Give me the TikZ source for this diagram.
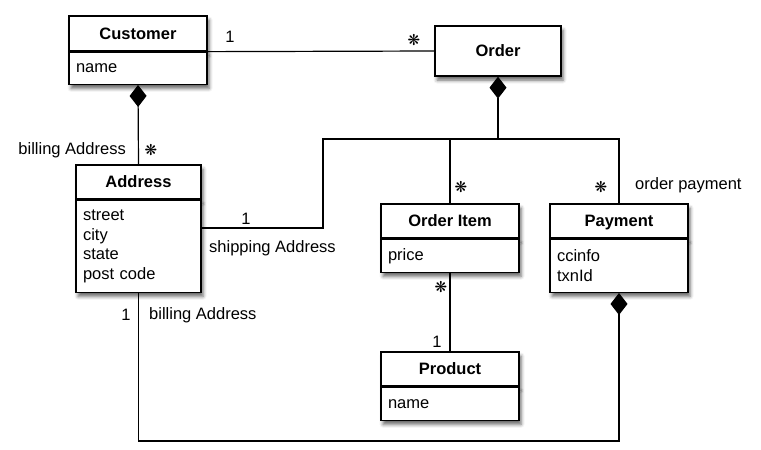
\documentclass[tikz,border=0pt]{standalone}
\usepackage{fontspec}
\setmainfont{Liberation Sans}
\newfontfamily\symfont{DejaVu Sans}
\usetikzlibrary{arrows.meta,shadows.blur}
\tikzset{dia/.tip={Diamond[length=22pt,width=17pt]}}
\begin{document}
\begin{tikzpicture}[x=1pt,y=-1pt,
  every node/.style={font=\fontsize{16.5}{19.5}\selectfont},
  cls/.style={draw, line width=1.3pt, fill=white, inner sep=0pt,
    blur shadow={shadow xshift=2pt, shadow yshift=-4pt, shadow blur radius=3.5pt, shadow opacity=60}},
  hdr/.style={cls, font=\fontsize{16.5}{19.5}\selectfont\bfseries, minimum height=34pt, text depth=0pt},
  body/.style={cls, align=left, inner xsep=7pt, anchor=north},
  conn/.style={line width=1.2pt},
  lbl/.style={inner sep=0pt},
  mult/.style={inner sep=0pt, font=\fontsize{15}{15}\selectfont\symfont}
]
\useasboundingbox (0,0) rectangle (761,450);
% classes
\node[hdr, minimum width=138pt, minimum height=35pt] (custh) at (138,33.5) {Customer};
\node[body, text width=124pt, minimum height=32pt] (custb) at (custh.south) {name};
\node[hdr, minimum width=126pt, minimum height=50pt] (order) at (498,51) {Order};
\node[hdr, minimum width=125pt] (addrh) at (138.5,182) {Address};
\node[body, text width=111pt, minimum height=92pt] (addrb) at (addrh.south) {street\\city\\state\\post code};
\node[hdr, minimum width=138pt] (oih) at (450,221) {Order Item};
\node[body, text width=124pt, minimum height=33pt] (oib) at (oih.south) {price};
\node[hdr, minimum width=138pt] (payh) at (619,221) {Payment};
\node[body, text width=124pt, minimum height=53pt] (payb) at (payh.south) {ccinfo\\txnId};
\node[hdr, minimum width=138pt] (prodh) at (450,369) {Product};
\node[body, text width=124pt, minimum height=33pt] (prodb) at (prodh.south) {name};
% connectors
\coordinate (jn) at (order.south |- 0,139);
\coordinate (shipc) at (323,228);
\draw[conn] (custh.south east) -- (order.west);
\draw[conn, -dia] (addrh.north) -- (custb.south);
\draw[conn, dia-] (order.south) -- (jn);
\draw[conn] (jn) -| (oih.north);
\draw[conn] (jn) -| (payh.north);
\draw[conn] (jn) -| (shipc) -- (addrb.east |- shipc);
\draw[conn] (oib.south) -- (prodh.north);
\draw[conn, dia-] (payb.south) -- (payb.south |- 0,441) -| (addrb.south);
% labels
\node[lbl] (l1) at (230,37) {1};
\node[mult] (m1) at (414,40) {❋};
\node[lbl, anchor=east] (l2) at (126,150) {billing Address};
\node[mult] (m2) at (151,150) {❋};
\node[lbl] (l3) at (246,219) {1};
\node[lbl, anchor=west] (l4) at (209,248) {shipping Address};
\node[mult] (m3) at (461,187) {❋};
\node[mult] (m4) at (601,187) {❋};
\node[lbl, anchor=west] (l5) at (635,185) {order payment};
\node[mult] (m5) at (441,287) {❋};
\node[lbl] (l6) at (437,342) {1};
\node[lbl] (l7) at (126,315) {1};
\node[lbl, anchor=west] (l8) at (149,315) {billing Address};
\end{tikzpicture}
\end{document}
